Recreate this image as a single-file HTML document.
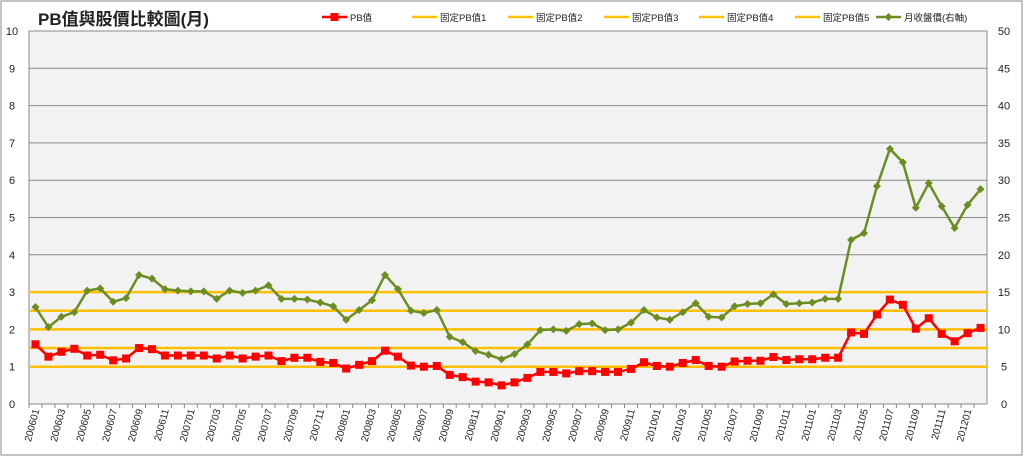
<!DOCTYPE html>
<html><head><meta charset="utf-8"><style>
body{margin:0;background:#fff;}
svg{display:block;font-family:"Liberation Sans","Noto Sans CJK TC",sans-serif;}
</style></head><body>
<svg id="c" width="1024" height="457">
<rect x="1" y="1" width="1021" height="454" fill="#fff" stroke="#888" stroke-width="1"/>
<text x="38" y="25" font-size="17" font-weight="bold" fill="#222">PB值與股價比較圖(月)</text>
<g id="legend"></g>
<g id="plot"></g>
</svg>
<script>
const months=[];for(let y=2006;y<=2012;y++)for(let m=1;m<=12;m++){if(y==2012&&m>2)break;months.push(''+y+(m<10?'0':'')+m);}
const pbValues=[1.6,1.27,1.4,1.48,1.3,1.32,1.17,1.22,1.5,1.47,1.3,1.3,
1.3,1.3,1.22,1.3,1.22,1.27,1.3,1.15,1.24,1.24,1.13,1.1,
0.95,1.05,1.15,1.43,1.27,1.03,1.0,1.02,0.78,0.72,0.6,0.58,
0.5,0.58,0.7,0.86,0.86,0.82,0.88,0.88,0.86,0.86,0.94,1.12,
1.02,1.0,1.1,1.18,1.02,1.0,1.14,1.16,1.16,1.26,1.18,1.2,
1.2,1.24,1.24,1.92,1.88,2.4,2.8,2.66,2.02,2.3,1.88,1.68,
1.9,2.04];
const priceValues=[13.0,10.3,11.7,12.3,15.2,15.5,13.7,14.2,17.3,16.8,15.4,15.2,
15.1,15.1,14.1,15.2,14.9,15.2,15.9,14.1,14.1,14.0,13.6,13.1,
11.3,12.6,13.9,17.3,15.4,12.5,12.2,12.6,9.0,8.3,7.1,6.6,
6.0,6.7,8.0,9.9,10.0,9.8,10.7,10.8,9.9,10.0,10.9,12.6,
11.6,11.3,12.3,13.5,11.7,11.6,13.1,13.4,13.5,14.7,13.4,13.5,
13.6,14.1,14.1,22.0,22.9,29.2,34.2,32.4,26.3,29.6,26.5,23.6,
26.7,28.8];
const fixedPB=[1,1.5,2,2.5,3];
const leftTicks=[0,1,2,3,4,5,6,7,8,9,10];
const rightTicks=[0,5,10,15,20,25,30,35,40,45,50];
const NS='http://www.w3.org/2000/svg';
const L=29,R=987,T=31,B=404;
const cw=(R-L)/months.length;
const xS=i=>L+cw*(i+0.5);
const yL=v=>B-(v/10)*(B-T);
const yR=v=>B-(v/50)*(B-T);
const svg=document.getElementById('c'),plot=document.getElementById('plot'),leg=document.getElementById('legend');
function mk(t,a,p){const e=document.createElementNS(NS,t);for(const k in a)e.setAttribute(k,a[k]);(p||plot).appendChild(e);return e;}
let e=mk('rect',{x:L,y:T,width:R-L,height:B-T,fill:'#f2f2f2'});


leftTicks.forEach(v=>{
 if(v>0){let g=mk('line',{x1:L,x2:R,y1:yL(v),y2:yL(v),stroke:'#8a8a8a','stroke-width':1});
 
 }
 let t=mk('text',{x:12,y:yL(v)+4,'font-size':11,fill:'#222','text-anchor':'middle'});t.textContent=v;
 
 
});
rightTicks.forEach(v=>{
 let t=mk('text',{x:1004,y:yR(v)+4,'font-size':11,fill:'#222','text-anchor':'middle'});t.textContent=v;
 
 
});
mk('line',{x1:L,x2:L,y1:T,y2:B,stroke:'#888'});
mk('line',{x1:R,x2:R,y1:T,y2:B,stroke:'#888'});
mk('line',{x1:L,x2:R,y1:B,y2:B,stroke:'#888'});
months.forEach((m,i)=>{
 mk('line',{x1:L+cw*i,x2:L+cw*i,y1:B,y2:B+4,stroke:'#888'});
 if(i%2==0){let t=mk('text',{transform:`translate(${xS(i)+4},${B+6}) rotate(-75)`,'font-size':10,fill:'#222','text-anchor':'end'});t.textContent=m;
 
 }
});
fixedPB.forEach((v,k)=>{
 let l=mk('line',{x1:L,x2:R,y1:yL(v),y2:yL(v),stroke:'#ffc000','stroke-width':2.5});
 
 
});
let pp=mk('polyline',{points:priceValues.map((v,i)=>xS(i)+','+yR(v)).join(' '),fill:'none',stroke:'#6b8e23','stroke-width':2.5});


priceValues.forEach((v,i)=>{const x=xS(i),y=yR(v);
 let d=mk('polygon',{points:`${x},${y-4} ${x+4},${y} ${x},${y+4} ${x-4},${y}`,fill:'#6b8e23'});
 
 });
let pl=mk('polyline',{points:pbValues.map((v,i)=>xS(i)+','+yL(v)).join(' '),fill:'none',stroke:'#ff0000','stroke-width':2.5});


pbValues.forEach((v,i)=>{
 let r=mk('rect',{x:xS(i)-4,y:yL(v)-4,width:8,height:8,fill:'#ff0000'});
 
 });
// legend
const legItems=[['PB值','#ff0000','sq',322],['固定PB值1','#ffc000','',412],['固定PB值2','#ffc000','',508],['固定PB值3','#ffc000','',604],['固定PB值4','#ffc000','',699],['固定PB值5','#ffc000','',795],['月收盤價(右軸)','#6b8e23','di',876]];
legItems.forEach(([n,c,m,x])=>{
 const g=mk('g',{},leg);
 
 
 mk('line',{x1:x,x2:x+25,y1:17,y2:17,stroke:c,'stroke-width':2.5},g);
 if(m=='sq')mk('rect',{x:x+8.5,y:13,width:8,height:8,fill:c},g);
 if(m=='di')mk('polygon',{points:`${x+12.5},13 ${x+16.5},17 ${x+12.5},21 ${x+8.5},17`,fill:c},g);
 const t=mk('text',{x:x+28,y:21,'font-size':9.5,fill:'#222'},g);t.textContent=n;
});
</script>
</body></html>
